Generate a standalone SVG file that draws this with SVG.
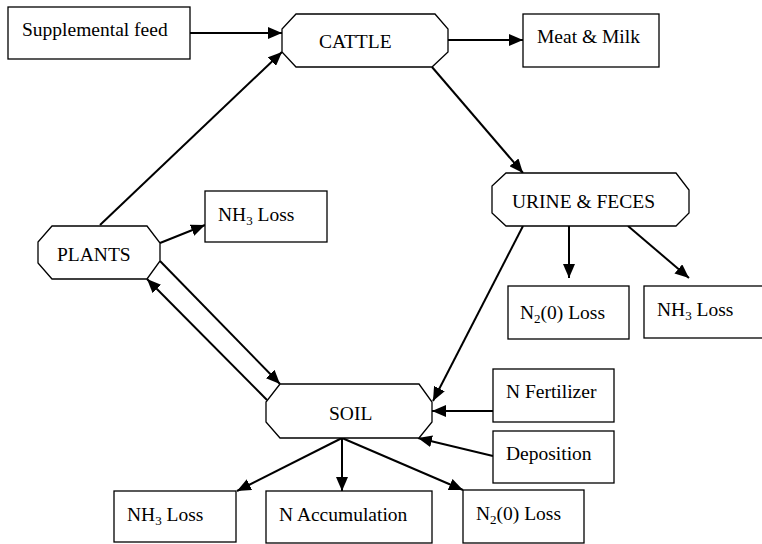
<svg xmlns="http://www.w3.org/2000/svg" width="762" height="544" viewBox="0 0 762 544">
<style>
.box{fill:#fff;stroke:#000;stroke-width:1.3}
.t{font-size:19.5px;fill:#000}
.s{font-size:13px}
.c{stroke:#000;stroke-width:2;fill:none}
.a{marker-end:url(#ah)}
</style>
<defs>
<marker id="ah" markerUnits="userSpaceOnUse" markerWidth="14" markerHeight="12" refX="14" refY="6" orient="auto">
<path d="M0,0 L14,6 L0,12 z" fill="#000"/>
</marker>
</defs>
<rect width="762" height="544" fill="#fff"/>
<g id="connectors">
<line class="c a" x1="190" y1="33" x2="282" y2="33"/>
<line class="c a" x1="448" y1="40" x2="523" y2="40"/>
<line class="c a" x1="100" y1="225" x2="282" y2="52"/>
<line class="c a" x1="432" y1="67" x2="523" y2="173"/>
<line class="c a" x1="160" y1="243" x2="205" y2="225"/>
<line class="c a" x1="160" y1="261" x2="280" y2="384"/>
<line class="c a" x1="267" y1="400" x2="147" y2="279"/>
<line class="c a" x1="523" y1="226" x2="433" y2="401"/>
<line class="c a" x1="569" y1="226" x2="569" y2="278"/>
<line class="c a" x1="628" y1="226" x2="689" y2="278"/>
<line class="c a" x1="493" y1="411" x2="432" y2="411"/>
<line class="c a" x1="493" y1="456" x2="418" y2="438"/>
<line class="c a" x1="342" y1="438" x2="237" y2="491"/>
<line class="c a" x1="342" y1="438" x2="342" y2="491"/>
<line class="c a" x1="342" y1="438" x2="463" y2="490"/>
</g>
<g font-family="'Liberation Serif', 'DejaVu Serif', 'Times New Roman', serif">
<g id="supplemental-feed">
<rect class="box" x="8" y="7" width="182" height="52"/>
<text class="t" x="22" y="36">Supplemental feed</text>
</g>
<g id="cattle">
<polygon class="box" points="296,14 435,14 448,29 448,52 432,67 296,67 282,52 282,29"/>
<text class="t" x="319" y="48">CATTLE</text>
</g>
<g id="meat-milk">
<rect class="box" x="523" y="14" width="136" height="53"/>
<text class="t" x="537" y="43">Meat &amp; Milk</text>
</g>
<g id="plants">
<polygon class="box" points="52,226 147,226 160,243 160,261 147,279 52,279 38,263 38,242"/>
<text class="t" x="57" y="261">PLANTS</text>
</g>
<g id="nh3-loss-plants">
<rect class="box" x="205" y="191" width="122" height="51"/>
<text class="t" x="218" y="221">NH<tspan class="s" dy="4">3</tspan><tspan dy="-4"> Loss</tspan></text>
</g>
<g id="urine-feces">
<polygon class="box" points="506,173 676,173 689,190 689,213 676,226 506,226 492,213 492,186"/>
<text class="t" x="512" y="208">URINE &amp; FECES</text>
</g>
<g id="n2o-loss-urine">
<rect class="box" x="508" y="286" width="121" height="53"/>
<text class="t" x="520" y="319">N<tspan class="s" dy="4">2</tspan><tspan dy="-4">(0) Loss</tspan></text>
</g>
<g id="nh3-loss-urine">
<rect class="box" x="644" y="286" width="130" height="52"/>
<text class="t" x="657" y="316">NH<tspan class="s" dy="4">3</tspan><tspan dy="-4"> Loss</tspan></text>
</g>
<g id="soil">
<polygon class="box" points="280,384 419,384 432,402 432,422 419,438 280,438 266,422 266,402"/>
<text class="t" x="329" y="420">SOIL</text>
</g>
<g id="n-fertilizer">
<rect class="box" x="493" y="369" width="121" height="53"/>
<text class="t" x="506" y="398">N Fertilizer</text>
</g>
<g id="deposition">
<rect class="box" x="493" y="431" width="121" height="52"/>
<text class="t" x="506" y="460">Deposition</text>
</g>
<g id="nh3-loss-soil">
<rect class="box" x="114" y="491" width="122" height="51"/>
<text class="t" x="127" y="521">NH<tspan class="s" dy="4">3</tspan><tspan dy="-4"> Loss</tspan></text>
</g>
<g id="n-accumulation">
<rect class="box" x="266" y="491" width="166" height="52"/>
<text class="t" x="279" y="521">N Accumulation</text>
</g>
<g id="n2o-loss-soil">
<rect class="box" x="463" y="490" width="121" height="53"/>
<text class="t" x="476" y="520">N<tspan class="s" dy="4">2</tspan><tspan dy="-4">(0) Loss</tspan></text>
</g>
</g>
</svg>
